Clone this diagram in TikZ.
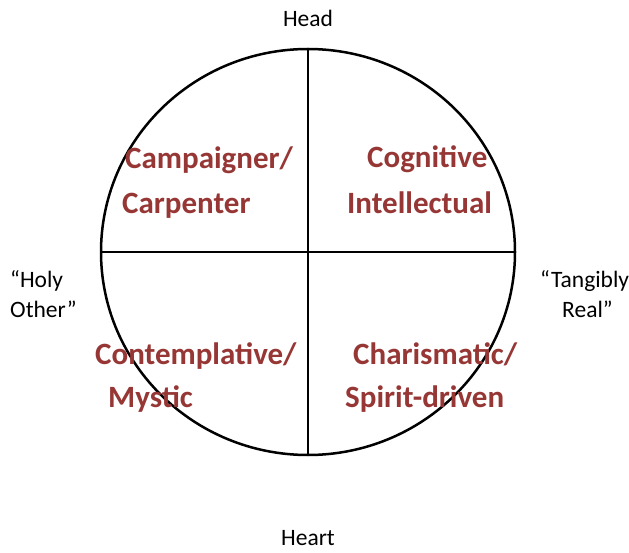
\documentclass[tikz,border=0pt]{standalone}
\usepackage{fontspec}
\setmainfont{Carlito}
\definecolor{quadred}{RGB}{150,55,53}
\begin{document}
\begin{tikzpicture}[x=1pt,y=-1pt,
  quad/.style={anchor=base west,inner sep=0pt,text=quadred,font=\fontsize{31}{33}\selectfont\bfseries},
  lbl/.style={anchor=base west,inner sep=0pt,text=black,font=\fontsize{23.5}{26}\selectfont},
  lblc/.style={anchor=base,inner sep=0pt,text=black,font=\fontsize{23.5}{26}\selectfont}]
\useasboundingbox (0,0) rectangle (629,553);
\coordinate (c) at (308,252);
\coordinate (t) at (308,49);
\coordinate (b) at (308,455);
\coordinate (l) at (101,252);
\coordinate (r) at (515,252);
\draw[line width=2.5pt] (c) ellipse [x radius=207, y radius=203];
\draw[line width=2pt] (t) -- (b);
\draw[line width=2pt] (l) -- (r);
\node[quad] (q1a) at (125,169) {Campaigner/};
\node[quad] (q1b) at (122,214) {Carpenter};
\node[quad] (q2a) at (367,168) {Cognitive};
\node[quad] (q2b) at (347,214) {Intellectual};
\node[quad] (q3a) at (95,364) {Contemplative/};
\node[quad] (q3b) at (108,407) {Mystic};
\node[quad] (q4a) at (353,364) {Charismatic/};
\node[quad] (q4b) at (345,407) {Spirit-driven};
\node[lblc] (head) at (308,27) {Head};
\node[lblc] (heart) at (308,545) {Heart};
\node[lbl] (hoa) at (10,288) {“Holy};
\node[lbl] (hob) at (10,317) {Other”};
\node[lbl] (tra) at (540,288) {“Tangibly};
\node[lbl] (trb) at (562,317) {Real”};
\end{tikzpicture}
\end{document}
